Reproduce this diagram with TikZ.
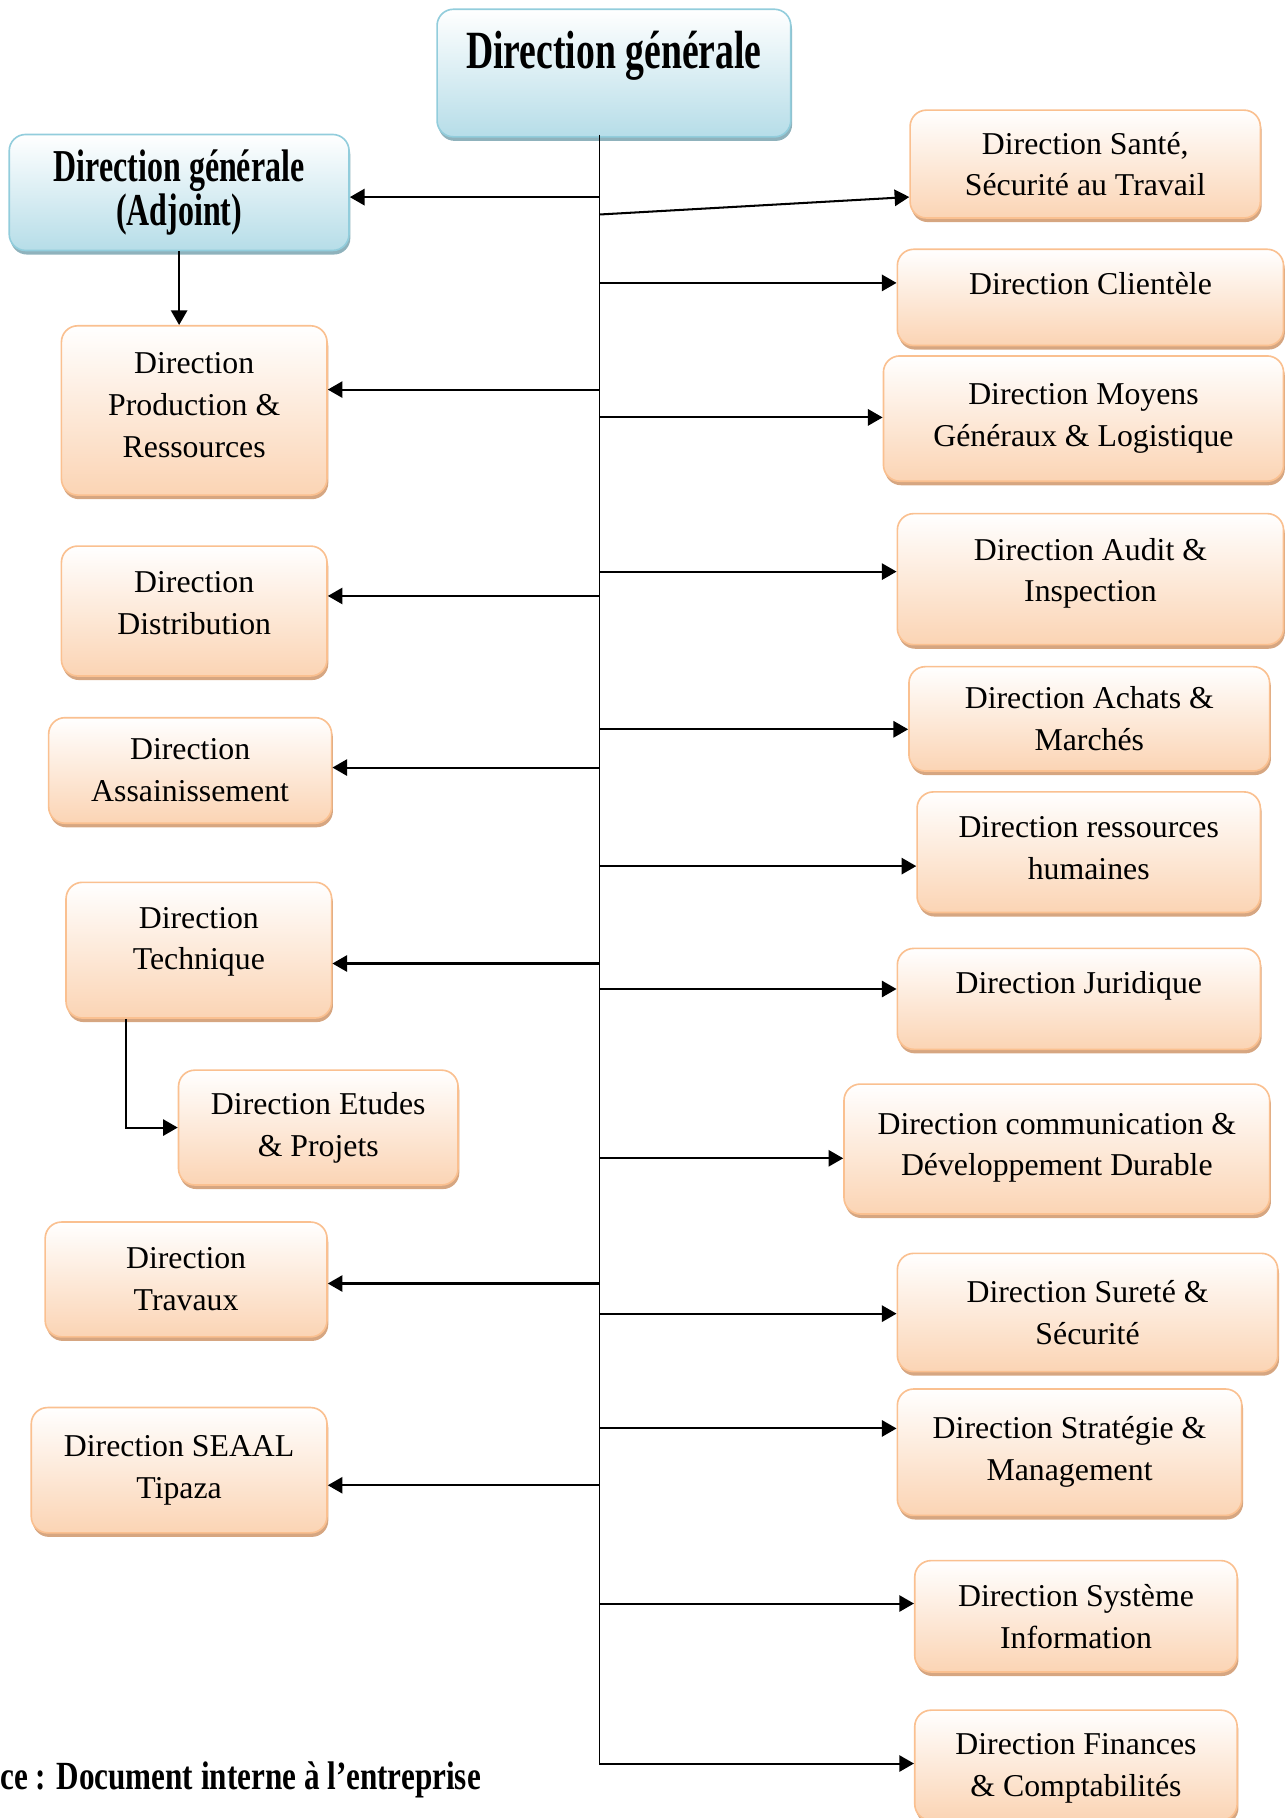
\documentclass[tikz,border=0pt]{standalone}
\usepackage{fontspec}
\setmainfont{Liberation Serif}
\newfontfamily\condbf{Liberation Serif}[FakeStretch=0.7]
\newfontfamily\srcbf{Liberation Serif}[FakeStretch=0.78]
\usetikzlibrary{arrows.meta,shadows,positioning}

\definecolor{peach}{HTML}{FBD4B4}
\definecolor{peachline}{HTML}{FAC090}
\definecolor{peachshadow}{HTML}{D6A681}
\definecolor{skyfill}{HTML}{B6DDE8}
\definecolor{skyline}{HTML}{92CDDC}
\definecolor{skyshadow}{HTML}{8FB2BC}

\tikzset{
  box/.style 2 args={line width=1pt, rounded corners=10pt, top color=white,
    align=center, inner sep=0pt, minimum width=#1cm, minimum height=#2cm},
  dir/.style 2 args={box={#1}{#2}, draw=peachline, bottom color=peach,
    drop shadow={shadow xshift=0.8pt, shadow yshift=-2.5pt, fill=peachshadow, opacity=1},
    font=\fontsize{19.5}{25.7}\selectfont},
  head/.style 2 args={box={#1}{#2}, draw=skyline, bottom color=skyfill,
    drop shadow={shadow xshift=0.8pt, shadow yshift=-2.5pt, fill=skyshadow, opacity=1}},
  arr/.style={-{Triangle[length=9pt,width=10pt]}, line width=1.25pt}
}

\begin{document}
\begin{tikzpicture}[x=0.025cm, y=-0.025cm]
  \useasboundingbox (0,0) rectangle (1110,1568);

  % heads
  \node[head={7.625}{2.75}, font=\condbf\bfseries\fontsize{33}{28}\selectfont] (dg) at (529.5,63) {Direction générale\\~};
  \node[head={7.325}{2.5}, font=\condbf\bfseries\fontsize{28}{25.5}\selectfont] (adj) at (154.5,166) {Direction générale\\(Adjoint)};

  % left column
  \node[dir={5.725}{3.65}, text depth=6.4pt] (prod) at (167.5,354) {Direction\\Production \&\\Ressources};
  \node[dir={5.725}{2.8}, text depth=10pt] (dist) at (167.5,527) {Direction\\Distribution};
  \node[dir={6.1}{2.275}] (assain) at (164,664.5) {Direction\\Assainissement};
  \node[dir={5.725}{2.925}, text depth=14.3pt] (tech) at (171.5,819.5) {Direction\\Technique};
  \node[dir={6.025}{2.475}] (etud) at (274.5,972.5) {Direction Etudes\\\& Projets};
  \node[dir={6.075}{2.475}] (trav) at (160.5,1103.5) {Direction\\Travaux};
  \node[dir={6.375}{2.7}] (seaal) at (154.5,1268) {Direction SEAAL\\Tipaza};

  % right column
  \node[dir={7.55}{2.325}] (sante) at (936,141.5) {Direction Santé,\\Sécurité au Travail};
  \node[dir={8.325}{2.075}] (clie) at (940.5,256.5) {Direction Clientèle\\[-8pt]~};
  \node[dir={8.625}{2.7}] (moy) at (934.5,361) {Direction Moyens\\Généraux \& Logistique};
  \node[dir={8.325}{2.825}, text depth=11.3pt] (audit) at (940.5,499.5) {Direction Audit \&\\Inspection};
  \node[dir={7.775}{2.25}] (achat) at (939.5,620) {Direction Achats \&\\Marchés};
  \node[dir={7.4}{2.6}, text depth=5pt] (rh) at (939,735) {Direction ressources\\humaines};
  \node[dir={7.825}{2.175}] (jur) at (930.5,861.5) {Direction Juridique\\[-5pt]~};
  \node[dir={9.175}{2.8}, text depth=5.6pt] (comm) at (911.5,991) {Direction communication \&\\Développement Durable};
  \node[dir={8.2}{2.55}] (sur) at (938,1132) {Direction Sureté \&\\Sécurité};
  \node[dir={7.425}{2.725}] (strat) at (922.5,1252.5) {Direction Stratégie \&\\Management};
  \node[dir={6.95}{2.4}] (sys) at (928,1394) {Direction Système\\Information};
  \node[dir={6.95}{2.375}, text depth=0pt] (fin) at (928,1522.5) {Direction Finances\\\& Comptabilités};

  \node[anchor=west, inner sep=0pt, font=\srcbf\bfseries\fontsize{24.5}{28}\selectfont] (src) at (0,1535) {ce : Document interne à l’entreprise};

  % trunk
  \coordinate (ttop) at (517,116);
  \coordinate (tbot) at (517,1521);
  \draw[line width=0.9pt] (ttop) -- (tbot);

  \foreach \n/\y in {adj/170, prod/336, dist/514, assain/662, tech/831, trav/1107, seaal/1281}{
    \coordinate (j-\n) at (517,\y);
    \draw[arr] (j-\n) -- (j-\n -| \n.east);
  }
  \foreach \n/\y in {clie/244, moy/360, audit/493, achat/629, rh/747, jur/853, comm/999, sur/1133, strat/1232, sys/1383, fin/1521}{
    \coordinate (j-\n) at (517,\y);
    \draw[arr] (j-\n) -- (j-\n -| \n.west);
  }
  \coordinate (j-sante) at (517,185);
  \draw[arr] (j-sante) -- ([yshift=-0.71cm]sante.west);

  \draw[arr] (adj.south) -- (adj.south |- prod.north);
  \draw[arr] ([xshift=-1.56cm]tech.south) |- (etud.west);
\end{tikzpicture}
\end{document}
